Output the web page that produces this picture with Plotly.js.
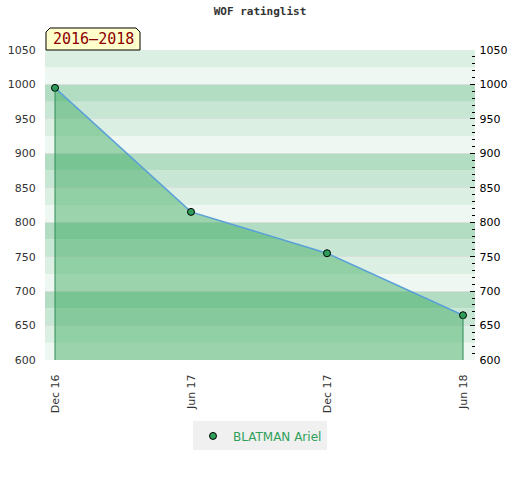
<!DOCTYPE html>
<html>
<head>
<meta charset="utf-8">
<script src="https://cdn.plot.ly/plotly-3.0.1.min.js"></script>
<style>html,body{margin:0;padding:0;background:#fff;}#chart{width:520px;height:480px;}</style>
</head>
<body>
<div id="chart"></div>
<script>
// ---- data ----
const periods = ["Dec 16", "Jun 17", "Dec 17", "Jun 18"];
const ratings = [995, 815, 755, 665];
const playerName = "BLATMAN Ariel";
const chartTitle = "WOF ratinglist";
const periodLabel = "2016\u20132018";
const yMin = 600, yMax = 1050;

// band colours (repeat every 100 points, 25-point bands)
const bandColors = ["#b2ddc3", "#c8e6d4", "#dcefe3", "#eef7f1"];

const shapes = [];
for (let v = yMin; v < yMax; v += 25) {
  const top = v + 25;
  const idx = (100 - (top % 100 === 0 ? 100 : top % 100)) / 25;
  shapes.push({type: "rect", xref: "paper", yref: "y", x0: 0, x1: 1, y0: v, y1: top,
    fillcolor: bandColors[idx], line: {width: 0}, layer: "below"});
}
// label box with cut top corners
const bx0 = 0.0023, bx1 = 0.221, by0 = 1.0, by1 = 1.071, cx = 0.0093, cy = 0.013;
shapes.push({type: "path", xref: "paper", yref: "paper",
  path: `M ${bx0} ${by0} L ${bx0} ${by1 - cy} L ${bx0 + cx} ${by1} L ${bx1 - cx} ${by1} L ${bx1} ${by1 - cy} L ${bx1} ${by0} Z`,
  fillcolor: "#ffffcc", line: {color: "#000", width: 1}, layer: "above"});

const traces = [
  {
    x: periods, y: ratings, type: "scatter", mode: "lines",
    name: playerName, fill: "tozeroy", fillcolor: "rgba(40,161,79,0.42)",
    line: {color: "#5aa0d8", width: 1.5}, showlegend: false, hoverinfo: "skip"
  },
  {
    x: [periods[0], periods[0], null, periods[periods.length - 1], periods[periods.length - 1]],
    y: [yMin, ratings[0], null, yMin, ratings[ratings.length - 1]],
    type: "scatter", mode: "lines", yaxis: "y2", showlegend: false, hoverinfo: "skip",
    line: {color: "#2e8b57", width: 1}
  },
  {
    x: periods, y: ratings, type: "scatter", mode: "markers",
    name: playerName,
    marker: {color: "#2e9e5b", size: 7, line: {color: "#000", width: 1}},
    hoverinfo: "x+y"
  }
];

const layout = {
  width: 520, height: 480,
  margin: {l: 45, r: 45, t: 50, b: 120},
  paper_bgcolor: "#fff", plot_bgcolor: "#fff",
  title: {text: chartTitle, x: 0.5, xref: "paper", y: 0.985, yanchor: "top",
    font: {family: "DejaVu Sans Mono", size: 11, color: "#333", weight: "bold"}},
  font: {family: "DejaVu Sans", size: 11, color: "#333"},
  xaxis: {type: "category", range: [-0.0735, 3.088], tickangle: -90,
    showgrid: false, zeroline: false, showline: false,
    ticks: "outside", ticklen: 9, tickcolor: "rgba(0,0,0,0)",
    tickfont: {family: "DejaVu Sans", size: 11, color: "#333"}},
  yaxis: {range: [yMin, yMax], dtick: 50, showgrid: true, gridcolor: "#d9dfdb", gridwidth: 1,
    zeroline: false, showline: false,
    ticks: "outside", ticklen: 6, tickcolor: "rgba(0,0,0,0)",
    tickfont: {family: "DejaVu Sans", size: 11, color: "#333"}},
  yaxis2: {range: [yMin, yMax], dtick: 50, overlaying: "y", side: "right",
    showgrid: false, zeroline: false, showline: false,
    ticks: "inside", ticklen: 5, tickcolor: "#000", tickwidth: 1, tickprefix: "\u00a0",
    minor: {dtick: 10, ticks: "inside", ticklen: 3, tickcolor: "#000", tickwidth: 1, showgrid: false},
    tickfont: {family: "DejaVu Sans", size: 11, color: "#000"}},
  shapes: shapes,
  annotations: [{
    text: periodLabel, xref: "paper", yref: "paper", x: (bx0 + bx1) / 2, y: (by0 + by1) / 2,
    xanchor: "center", yanchor: "middle", showarrow: false,
    font: {family: "DejaVu Sans Mono", size: 15, color: "#8b0000"}
  }],
  showlegend: true,
  legend: {orientation: "h", x: 0.5, xanchor: "center", y: -0.245, yanchor: "middle",
    bgcolor: "#f0f0f0", itemwidth: 30, tracegroupgap: 0,
    font: {family: "DejaVu Sans", size: 12, color: "#2ea05a"}},
  hovermode: "closest"
};

Plotly.newPlot("chart", traces, layout, {displayModeBar: false, staticPlot: true});
</script>
</body>
</html>
